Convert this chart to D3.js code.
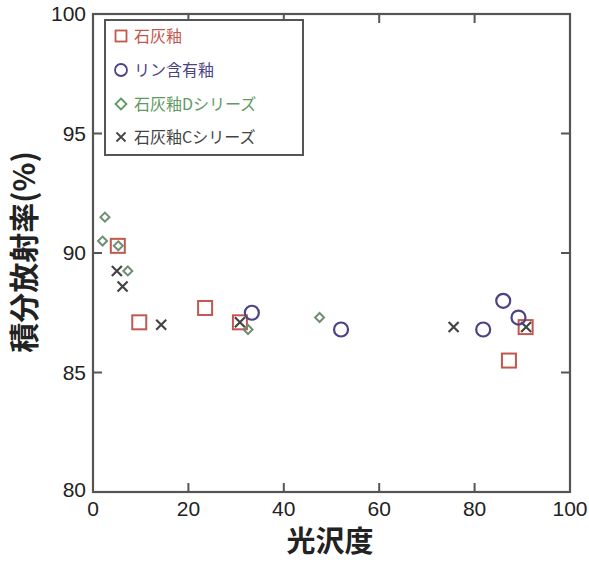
<!DOCTYPE html>
<html><head><meta charset="utf-8">
<script src="https://cdn.jsdelivr.net/npm/d3@7"></script>
<style>body{margin:0;background:#fff}svg{display:block}</style>
</head><body>
<script>
// Data
const limeGlaze = [[5.2,90.3],[9.7,87.1],[23.5,87.7],[30.8,87.1],[87.2,85.5],[90.7,86.9]];
const phosGlaze = [[33.3,87.5],[52.0,86.8],[81.8,86.8],[86.0,88.0],[89.2,87.3]];
const limeD = [[2.5,91.5],[2.0,90.5],[5.3,90.3],[7.3,89.25],[32.5,86.8],[47.5,87.3]];
const limeC = [[5.0,89.25],[6.2,88.6],[14.3,87.0],[30.8,87.1],[75.6,86.9],[90.8,86.9]];
const xTicks = [0,20,40,60,80,100];
const yTicks = [80,85,90,95,100];
const legendLabels = ["石灰釉","リン含有釉","石灰釉Dシリーズ","石灰釉Cシリーズ"];
const colors = ["#c4574d","#4b4383","#5e9a62","#444444"];

const W=589,H=562;
const svg=d3.select("body").append("svg").attr("width",W).attr("height",H);
const L=93,R=570,T=14,B=492;
const x=d3.scaleLinear().domain([0,100]).range([L,R]);
const y=d3.scaleLinear().domain([80,100]).range([B,T]);
const axCol="#555";
const numFont="'Liberation Sans', Arial, sans-serif";
const jpFont="'Noto Sans CJK JP', sans-serif";

// inward ticks on all sides
const tl=9;
const g=svg.append("g");
xTicks.slice(1,-1).forEach(v=>{
  g.append("line").attr("x1",x(v)).attr("x2",x(v)).attr("y1",B).attr("y2",B-tl).attr("stroke",axCol).attr("stroke-width",2);
  g.append("line").attr("x1",x(v)).attr("x2",x(v)).attr("y1",T).attr("y2",T+tl).attr("stroke",axCol).attr("stroke-width",2);
});
yTicks.slice(1,-1).forEach(v=>{
  g.append("line").attr("x1",L).attr("x2",L+tl).attr("y1",y(v)).attr("y2",y(v)).attr("stroke",axCol).attr("stroke-width",2);
  g.append("line").attr("x1",R).attr("x2",R-tl).attr("y1",y(v)).attr("y2",y(v)).attr("stroke",axCol).attr("stroke-width",2);
});
g.append("rect").attr("x",L).attr("y",T).attr("width",R-L).attr("height",B-T)
  .attr("fill","none").attr("stroke",axCol).attr("stroke-width",2.2);

// tick labels
xTicks.forEach(v=>{
  svg.append("text").attr("x",x(v)).attr("y",B+24).attr("text-anchor","middle")
    .attr("font-family",numFont).attr("font-size",21).attr("fill","#222").text(v);
});
yTicks.forEach(v=>{
  svg.append("text").attr("x",L-7).attr("y",y(v)+(v===80?5:7)).attr("text-anchor","end")
    .attr("font-family",numFont).attr("font-size",21).attr("fill","#222").text(v);
});

// axis titles
svg.append("text").attr("x",330).attr("y",552).attr("text-anchor","middle")
  .attr("font-family",jpFont).attr("font-weight","bold").attr("font-size",29).attr("fill","#222").text("光沢度");
svg.append("text").attr("transform","translate(35,252) rotate(-90)").attr("text-anchor","middle")
  .attr("font-family",jpFont).attr("font-weight","bold").attr("font-size",30).attr("fill","#222").text("積分放射率(%)");

// markers
function square(sel,cx,cy,s,c,w){sel.append("rect").attr("x",cx-s/2).attr("y",cy-s/2).attr("width",s).attr("height",s).attr("fill","none").attr("stroke",c).attr("stroke-width",w);}
function circle(sel,cx,cy,r,c,w){sel.append("circle").attr("cx",cx).attr("cy",cy).attr("r",r).attr("fill","none").attr("stroke",c).attr("stroke-width",w);}
function diamond(sel,cx,cy,r,c,w){sel.append("path").attr("d",`M${cx},${cy-r}L${cx+r},${cy}L${cx},${cy+r}L${cx-r},${cy}Z`).attr("fill","none").attr("stroke",c).attr("stroke-width",w);}
function cross(sel,cx,cy,r,c,w){sel.append("path").attr("d",`M${cx-r},${cy-r}L${cx+r},${cy+r}M${cx-r},${cy+r}L${cx+r},${cy-r}`).attr("stroke",c).attr("stroke-width",w);}

const pg=svg.append("g");
limeGlaze.forEach(d=>square(pg,x(d[0]),y(d[1]),14,colors[0],2));
limeC.forEach(d=>cross(pg,x(d[0]),y(d[1]),5,colors[3],2.2));
limeD.forEach(d=>diamond(pg,x(d[0]),y(d[1]),4.5,"#6e8f74",2));
phosGlaze.forEach(d=>circle(pg,x(d[0]),y(d[1]),7,colors[1],2.2));

// legend
const lg=svg.append("g");
lg.append("rect").attr("x",105).attr("y",20).attr("width",198).attr("height",135)
  .attr("fill","#fff").attr("stroke",axCol).attr("stroke-width",2);
const rowsY=[36,70,104,137];
legendLabels.forEach((t,i)=>{
  const cy=rowsY[i];
  if(i===0) square(lg,121,cy,11,colors[0],1.8);
  if(i===1) circle(lg,121,cy,6,colors[1],1.8);
  if(i===2) diamond(lg,121,cy,5.5,colors[2],1.8);
  if(i===3) cross(lg,121,cy,4.5,colors[3],1.8);
  lg.append("text").attr("x",134).attr("y",cy+6).attr("font-family",jpFont)
    .attr("font-size",16).attr("fill",colors[i]).text(t);
});
</script>
</body></html>
